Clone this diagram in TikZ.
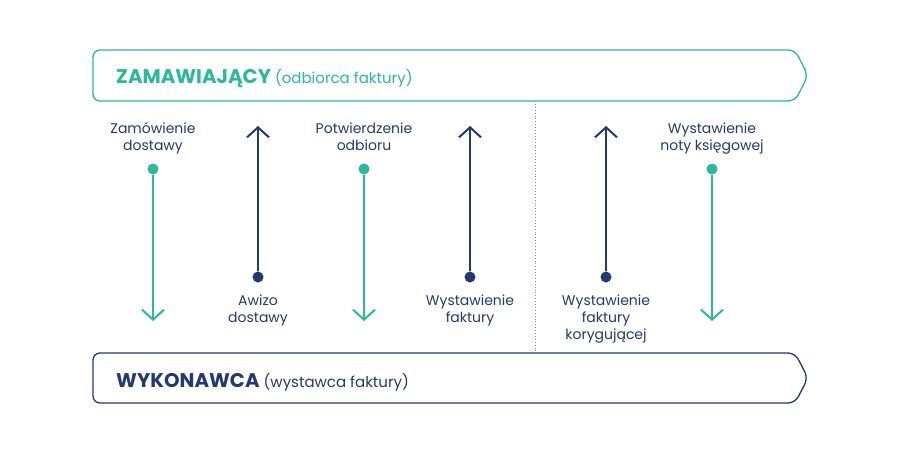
\documentclass[tikz,border=0pt]{standalone}
\usepackage{fontspec}
\setmainfont{Poppins}
\usetikzlibrary{arrows.meta}
\definecolor{BuyerTeal}{HTML}{2BB89B}
\definecolor{SellerNavy}{HTML}{24396F}
\definecolor{SplitGray}{HTML}{8C8C8C}

\begin{document}
\begin{tikzpicture}[x=1pt,y=-1pt,>={Straight Barb[length=10pt,width=22pt]}]
\tikzstyle{lbl}=[align=center,text=SellerNavy,inner sep=0pt,
                 font=\fontsize{14}{17}\selectfont]
\tikzstyle{dot}=[circle,inner sep=0pt,minimum size=11pt]
\tikzstyle{flow}=[line width=2pt]
\tikzstyle{banner}=[line width=1.3pt,rounded corners=7pt]
\tikzstyle{head}=[anchor=base west,inner sep=0pt,font=\fontsize{15}{15}\selectfont]
\useasboundingbox (0,0) rectangle (901,451);
% banners
\draw[banner,BuyerTeal] (93,50) -- (795,50) -- (808,75.5) -- (795,101) -- (93,101) -- cycle;
\draw[banner,SellerNavy] (93,353) -- (795,353) -- (808,378) -- (795,403) -- (93,403) -- cycle;
\node[head,text=BuyerTeal] (buyer) at (116,83)
  {{\bfseries\fontsize{19.8}{20}\selectfont ZAMAWIAJĄCY}\ (odbiorca faktury)};
\node[head,text=SellerNavy] (seller) at (116,387)
  {{\bfseries\fontsize{19.8}{20}\selectfont WYKONAWCA}\ (wystawca faktury)};
% split
\coordinate (s1) at (535,101);
\coordinate (s2) at (535,353);
\draw[SplitGray,dotted,line width=0.9pt] (s1) -- (s2);
% buyer -> seller
\node[lbl,anchor=north] (zam) at (153,122.5) {Zamówienie\\dostawy};
\node[dot,fill=BuyerTeal] (zamd) at (153,169) {};
\coordinate (zame) at (153,321);
\draw[flow,BuyerTeal,->] (zamd) -- (zame);
\node[lbl,anchor=north] (pot) at (364,122.5) {Potwierdzenie\\odbioru};
\node[dot,fill=BuyerTeal] (potd) at (364,169) {};
\coordinate (pote) at (364,321);
\draw[flow,BuyerTeal,->] (potd) -- (pote);
\node[lbl,anchor=north] (nota) at (712,122.5) {Wystawienie\\noty księgowej};
\node[dot,fill=BuyerTeal] (notad) at (712,169) {};
\coordinate (notae) at (712,321);
\draw[flow,BuyerTeal,->] (notad) -- (notae);
% seller -> buyer
\node[dot,fill=SellerNavy] (awid) at (258,277) {};
\coordinate (awie) at (258,126);
\draw[flow,SellerNavy,->] (awid) -- (awie);
\node[lbl,anchor=north] (awi) at (258,294.5) {Awizo\\dostawy};
\node[dot,fill=SellerNavy] (fakd) at (470,277) {};
\coordinate (fake) at (470,126);
\draw[flow,SellerNavy,->] (fakd) -- (fake);
\node[lbl,anchor=north] (fak) at (470,294.5) {Wystawienie\\faktury};
\node[dot,fill=SellerNavy] (kord) at (606,277) {};
\coordinate (kore) at (606,126);
\draw[flow,SellerNavy,->] (kord) -- (kore);
\node[lbl,anchor=north] (kor) at (606,294.5) {Wystawienie\\faktury\\korygującej};
\end{tikzpicture}
\end{document}
